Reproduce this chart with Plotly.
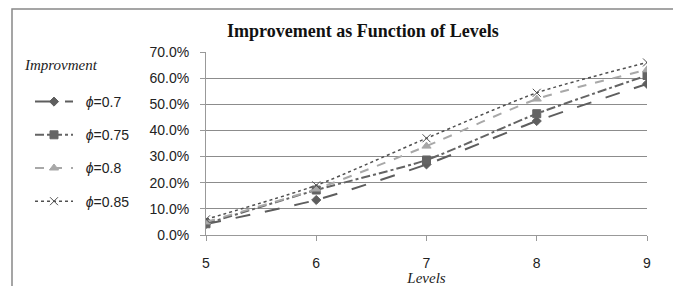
import plotly.graph_objects as go

levels = [5, 6, 7, 8, 9]
series_names = ["<i>ϕ</i>=0.7", "<i>ϕ</i>=0.75", "<i>ϕ</i>=0.8", "<i>ϕ</i>=0.85"]
phi_070 = [0.042, 0.134, 0.270, 0.436, 0.578]
phi_075 = [0.043, 0.172, 0.287, 0.464, 0.610]
phi_080 = [0.050, 0.176, 0.340, 0.520, 0.632]
phi_085 = [0.060, 0.190, 0.370, 0.544, 0.660]
y_ticks = [0, 0.1, 0.2, 0.3, 0.4, 0.5, 0.6, 0.7]

styles = [
    dict(color="#5e5e5e", dash="longdash", symbol="diamond", msize=7, width=2),
    dict(color="#646464", dash="dashdot", symbol="square", msize=8, width=2),
    dict(color="#a8a8a8", dash="dash", symbol="triangle-up", msize=8, width=2),
    dict(color="#505050", dash="dot", symbol="x-thin-open", msize=8, width=1.5),
]

fig = go.Figure()
for i, (name, vals) in enumerate(zip(series_names, [phi_070, phi_075, phi_080, phi_085])):
    s = styles[i]
    fig.add_trace(go.Scatter(
        x=levels, y=vals, name="&nbsp;&nbsp;" + name, mode="lines+markers",
        line=dict(color=s["color"], dash=s["dash"], width=s["width"], shape="spline", smoothing=0.6),
        marker=dict(symbol=s["symbol"], size=s["msize"], color=s["color"],
                    line=dict(color=s["color"], width=1)),
        legendgroup=f"g{i}",
    ))

# page body has an 8px default margin; work in reference pixel coords minus 8
OFF = 8
W, H = 681 - OFF, 286 - OFF
L = 206 - OFF
R = W - (647 - OFF)
T = 52 - OFF
B = H - (235 - OFF)
pw = W - L - R
ph = H - T - B


def px(xr):
    return (xr - OFF - L) / pw


def py(yr):
    return 1 - (yr - OFF - T) / ph


fig.update_layout(
    width=W, height=H,
    margin=dict(l=L, r=R, t=T, b=B, autoexpand=False),
    paper_bgcolor="white", plot_bgcolor="white",
    font=dict(family="Liberation Sans, Arial", size=13, color="#222"),
    showlegend=True,
    legend=dict(
        x=px(30), y=py(86), xanchor="left", yanchor="top",
        font=dict(family="Liberation Sans, Arial", size=14, color="#222"),
        traceorder="grouped", tracegroupgap=12, itemwidth=38,
        bgcolor="rgba(0,0,0,0)",
    ),
    xaxis=dict(
        range=[5, 9], tickvals=levels, ticktext=[str(v) for v in levels],
        showgrid=False, showline=True, linecolor="#999", linewidth=1,
        ticks="outside", ticklen=5, tickcolor="#999", ticklabelstandoff=10,
        tickfont=dict(size=14), zeroline=False,
        title=dict(text="<i>Levels</i>", font=dict(family="Liberation Serif, Times New Roman", size=15), standoff=0),
    ),
    yaxis=dict(
        range=[0, 0.7], tickvals=y_ticks, tickformat=".1%",
        showgrid=True, gridcolor="#8c8c8c", gridwidth=1,
        showline=True, linecolor="#999", linewidth=1,
        ticks="outside", ticklen=5, tickcolor="#999", ticklabelstandoff=8,
        tickfont=dict(size=14), zeroline=False,
    ),
    annotations=[
        dict(
            text="<b>Improvement as Function of Levels</b>", xref="paper", yref="paper",
            x=px(363), y=py(31), xanchor="center", yanchor="middle", showarrow=False,
            font=dict(family="Liberation Serif, Times New Roman", size=18, color="#111"),
        ),
        dict(
            text="<i>Improvment</i>", xref="paper", yref="paper",
            x=px(22), y=py(65), xanchor="left", yanchor="middle", showarrow=False,
            font=dict(family="Liberation Serif, Times New Roman", size=15, color="#222"),
        ),
    ],
    shapes=[dict(
        type="rect", xref="paper", yref="paper",
        x0=px(12), x1=px(676),
        y0=py(300), y1=py(9),
        line=dict(color="#888", width=1.5), fillcolor="rgba(0,0,0,0)", layer="below",
    )],
)

fig.write_html("out.html")
